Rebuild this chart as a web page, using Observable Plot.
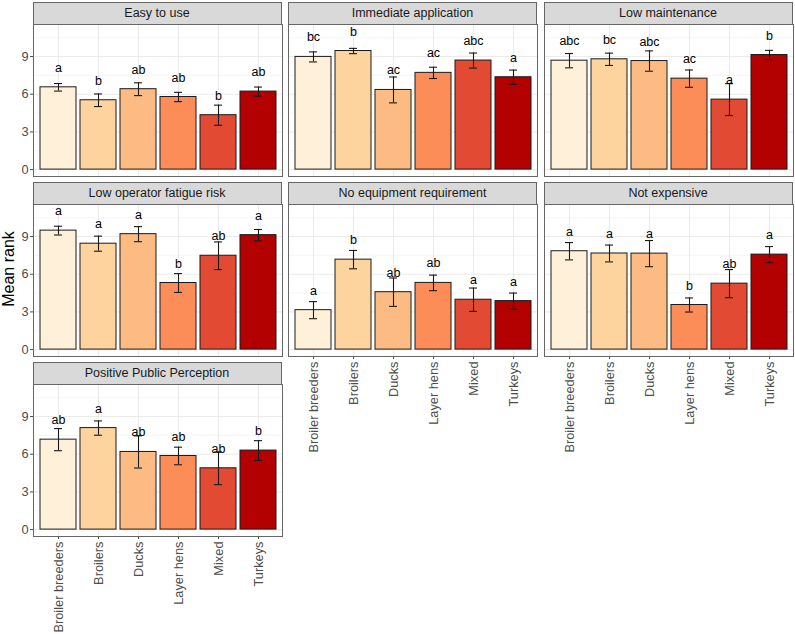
<!DOCTYPE html>
<html><head><meta charset="utf-8">
<script src="https://cdn.jsdelivr.net/npm/d3@7"></script>
<script src="https://cdn.jsdelivr.net/npm/@observablehq/plot@0.6"></script>
<style>
body{margin:0;background:#fff;}
#chart{position:relative;width:795px;height:634px;font-family:"Liberation Sans",Arial,Helvetica,sans-serif;background:#fff;overflow:hidden;}
.strip{position:absolute;box-sizing:border-box;background:#D9D9D9;border:1px solid #666;color:#1A1A1A;font-size:12.5px;display:flex;align-items:center;justify-content:center;}
.ylab{position:absolute;left:9px;top:269px;transform:translate(-50%,-50%) rotate(-90deg);font-size:16px;color:#000;white-space:nowrap;line-height:1;}
</style>
</head><body>
<div id="chart"><div class="ylab">Mean rank</div></div>
<script>
const categories = ["Broiler breeders", "Broilers", "Ducks", "Layer hens", "Mixed", "Turkeys"];
const facets = ["Easy to use", "Immediate application", "Low maintenance", "Low operator fatigue risk", "No equipment requirement", "Not expensive", "Positive Public Perception"];
const meanRank = [
  [6.55, 5.52, 6.40, 5.78, 4.33, 6.21],
  [8.97, 9.44, 6.34, 7.70, 8.68, 7.35],
  [8.67, 8.78, 8.64, 7.24, 5.57, 9.12],
  [9.47, 8.43, 9.19, 5.30, 7.47, 9.11],
  [3.14, 7.16, 4.57, 5.31, 3.97, 3.86],
  [7.83, 7.65, 7.64, 3.55, 5.25, 7.56],
  [7.16, 8.08, 6.18, 5.86, 4.88, 6.29]
];
const stdError = [
  [0.30, 0.50, 0.51, 0.37, 0.80, 0.36],
  [0.40, 0.21, 1.03, 0.45, 0.60, 0.57],
  [0.57, 0.49, 0.81, 0.69, 1.27, 0.37],
  [0.35, 0.60, 0.60, 0.75, 1.10, 0.45],
  [0.68, 0.73, 1.13, 0.62, 0.93, 0.64],
  [0.69, 0.67, 1.04, 0.56, 1.12, 0.64],
  [0.88, 0.57, 1.28, 0.70, 1.30, 0.79]
];
const letters = [
  ["a", "b", "ab", "ab", "b", "ab"],
  ["bc", "b", "ac", "ac", "abc", "a"],
  ["abc", "bc", "abc", "ac", "a", "b"],
  ["a", "a", "a", "b", "ab", "a"],
  ["a", "b", "ab", "ab", "a", "a"],
  ["a", "a", "a", "b", "ab", "a"],
  ["ab", "a", "ab", "ab", "ab", "b"]
];
const yTicks = [0, 3, 6, 9];
const yMinor = [1.5, 4.5, 7.5, 10.5];

const palette = ["#FEF0D9", "#FDD49E", "#FDBB84", "#FC8D59", "#E34A33", "#B30000"];
const labelOffset = 1.55;
const colLeft = [32.5, 288, 543.5];
const rowTop = [24, 204, 384];
const panelW = 249, panelH = 152, stripH = 22;
const ML = 34, MR = 4, MT = 2;

const chart = document.getElementById("chart");

facets.forEach((facet, fi) => {
  const col = fi % 3, row = Math.floor(fi / 3);
  const showX = fi >= 4;
  const showY = col === 0;
  const rows = categories.map((cat, ci) => ({
    cat, mean: meanRank[fi][ci], se: stdError[fi][ci], letter: letters[fi][ci]
  }));
  const MB = showX ? 110 : 4;
  const left = colLeft[col], top = rowTop[row];

  const strip = document.createElement("div");
  strip.className = "strip";
  strip.style.left = left + "px";
  strip.style.top = (top - stripH) + "px";
  strip.style.width = panelW + "px";
  strip.style.height = (stripH + 0.5) + "px";
  strip.textContent = facet;
  chart.appendChild(strip);

  const svg = Plot.plot({
    width: panelW + ML + MR,
    height: panelH + MT + MB,
    marginLeft: ML, marginRight: MR, marginTop: MT, marginBottom: MB,
    style: {position: "absolute", left: (left - ML) + "px", top: (top - MT) + "px",
            background: "transparent", overflow: "visible", color: "#4D4D4D",
            fontSize: "12.8px", fontFamily: "'Liberation Sans', Arial, Helvetica, sans-serif"},
    x: {domain: categories, paddingInner: 0.1, paddingOuter: 0.15, axis: showX ? "bottom" : null,
        tickRotate: -90, tickSize: 3, tickPadding: 2, label: null},
    y: {domain: [-0.55, 11.55], axis: showY ? "left" : null, ticks: yTicks, tickSize: 3, tickPadding: 2, label: null},
    color: {domain: categories, range: palette},
    marks: [
      Plot.ruleY(yMinor, {stroke: "#F0F0F0", strokeWidth: 0.6}),
      Plot.ruleY(yTicks, {stroke: "#EBEBEB", strokeWidth: 1.1}),
      Plot.ruleX(categories, {stroke: "#EBEBEB", strokeWidth: 1.1}),
      Plot.barY(rows, {x: "cat", y: "mean", fill: "cat", stroke: "#1A1A1A", strokeWidth: 1}),
      Plot.ruleX(rows, {x: "cat", y1: d => d.mean - d.se, y2: d => d.mean + d.se, stroke: "#1A1A1A", strokeWidth: 1.1}),
      Plot.tickY(rows, {x: "cat", y: d => d.mean - d.se, insetLeft: 14, insetRight: 14, stroke: "#1A1A1A", strokeWidth: 1.1}),
      Plot.tickY(rows, {x: "cat", y: d => d.mean + d.se, insetLeft: 14, insetRight: 14, stroke: "#1A1A1A", strokeWidth: 1.1}),
      Plot.text(rows, {x: "cat", y: d => d.mean + labelOffset, text: "letter", fontSize: 12.5, fill: "#000"}),
      Plot.frame({stroke: "#666", strokeWidth: 1})
    ]
  });
  chart.appendChild(svg);
});
</script>
</body></html>
